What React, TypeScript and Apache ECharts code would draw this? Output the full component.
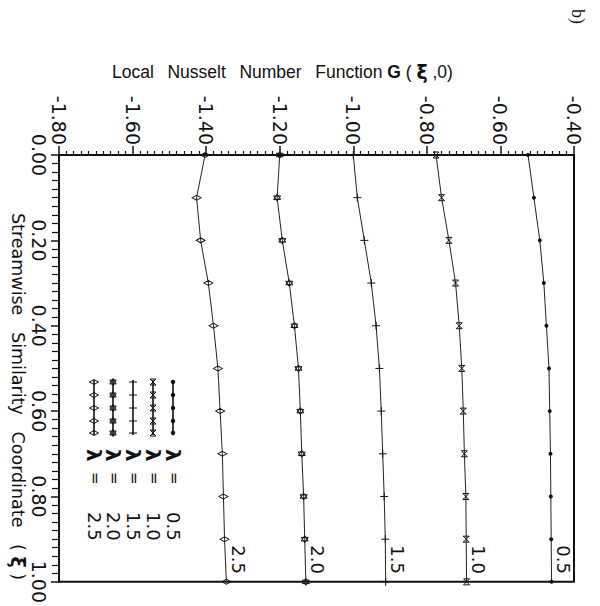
import React, { useEffect, useRef } from "react";
import * as echarts from "echarts";

// Streamwise similarity coordinate ξ (vertical axis, downward)
const xi = [0, 0.1, 0.2, 0.3, 0.4, 0.5, 0.6, 0.7, 0.8, 0.9, 1.0];

// Local Nusselt number function G(ξ,0) for each λ
const g05 = [-0.525, -0.509, -0.493, -0.482, -0.475, -0.468, -0.466, -0.464, -0.463, -0.462, -0.461];
const g10 = [-0.775, -0.760, -0.740, -0.722, -0.712, -0.705, -0.701, -0.698, -0.694, -0.693, -0.692];
const g15 = [-1.000, -0.989, -0.970, -0.951, -0.938, -0.929, -0.924, -0.920, -0.916, -0.913, -0.912];
const g20 = [-1.200, -1.207, -1.193, -1.174, -1.160, -1.149, -1.144, -1.140, -1.135, -1.132, -1.129];
const g25 = [-1.403, -1.426, -1.415, -1.394, -1.380, -1.368, -1.362, -1.356, -1.353, -1.350, -1.345];

const lambdaLabels = ["0.5", "1.0", "1.5", "2.0", "2.5"];

const G_MIN = -1.8;
const G_MAX = -0.4;
const G_STEP = 0.2;
const XI_MIN = 0;
const XI_MAX = 1;
const XI_STEP = 0.2;

const INK = "#111";

type Kind = "dot" | "hourglass" | "plus" | "star" | "diamond";

const curves: { values: number[]; kind: Kind }[] = [
  { values: g05, kind: "dot" },
  { values: g10, kind: "hourglass" },
  { values: g15, kind: "plus" },
  { values: g20, kind: "star" },
  { values: g25, kind: "diamond" },
];

const symbolFor: Record<Kind, { symbol: string; size: number | number[] }> = {
  dot: { symbol: "circle", size: 4 },
  hourglass: { symbol: "path://M0,0 L10,0 L0,10 L10,10 Z", size: 6 },
  plus: { symbol: "path://M0,5 L10,5 M5,0 L5,10", size: 8 },
  star: { symbol: "path://M5,0 L9.3,7.5 L0.7,7.5 Z M5,10 L0.7,2.5 L9.3,2.5 Z", size: 7 },
  diamond: { symbol: "path://M0,5 L5,0 L10,5 L5,10 Z", size: [9, 5] },
};

function legendMarker(kind: Kind, cx: number, cy: number): any[] {
  const st = { stroke: INK, lineWidth: 1, fill: "none" };
  switch (kind) {
    case "dot":
      return [{ type: "circle", shape: { cx, cy, r: 2.2 }, style: { fill: INK } }];
    case "hourglass":
      return [
        {
          type: "polygon",
          shape: { points: [[cx - 3, cy - 3], [cx + 3, cy - 3], [cx - 3, cy + 3], [cx + 3, cy + 3]] },
          style: st,
        },
      ];
    case "plus":
      return [{ type: "line", shape: { x1: cx - 4, y1: cy, x2: cx + 4, y2: cy }, style: st }];
    case "star":
      return [
        { type: "polygon", shape: { points: [[cx, cy - 3.5], [cx + 3.2, cy + 2], [cx - 3.2, cy + 2]] }, style: st },
        { type: "polygon", shape: { points: [[cx, cy + 3.5], [cx - 3.2, cy - 2], [cx + 3.2, cy - 2]] }, style: st },
      ];
    case "diamond":
      return [
        {
          type: "polygon",
          shape: { points: [[cx - 4.5, cy], [cx, cy - 2.5], [cx + 4.5, cy], [cx, cy + 2.5]] },
          style: st,
        },
      ];
  }
  return [];
}

export default function App() {
  const ref = useRef<HTMLDivElement>(null);

  useEffect(() => {
    if (!ref.current) return;
    const chart = echarts.init(ref.current, undefined, { renderer: "svg" });

    const series = curves.map((c, k) => ({
      type: "line",
      name: "λ = " + lambdaLabels[k],
      data: c.values.map((g, i) => [g, xi[i]]),
      symbol: symbolFor[c.kind].symbol,
      symbolSize: symbolFor[c.kind].size,
      showSymbol: true,
      clip: false,
      silent: true,
      lineStyle: { color: "#222", width: 1 },
      itemStyle:
        c.kind === "dot"
          ? { color: INK }
          : { color: "rgba(0,0,0,0)", borderColor: INK, borderWidth: 1 },
      emphasis: { disabled: true },
      z: 3,
    }));

    const tickFont = { fontFamily: "DejaVu Sans", fontSize: 19, color: INK };
    const fmt = (v: number) => v.toFixed(2);

    chart.setOption({
      animation: false,
      backgroundColor: "#fff",
      grid: {
        left: 59,
        right: 26,
        top: 155,
        bottom: 23,
        show: true,
        borderColor: INK,
        borderWidth: 2,
      },
      xAxis: {
        type: "value",
        position: "top",
        min: G_MIN,
        max: G_MAX,
        interval: G_STEP,
        axisLine: { show: true, lineStyle: { color: INK, width: 2 } },
        axisTick: { show: true, length: 9, lineStyle: { color: INK, width: 1.5 } },
        minorTick: { show: true, splitNumber: 10, length: 4, lineStyle: { color: INK, width: 1.2 } },
        splitLine: { show: false },
        axisLabel: {
          ...tickFont,
          rotate: -90,
          margin: 10,
          showMinLabel: true,
          showMaxLabel: true,
          formatter: fmt,
        },
      },
      yAxis: {
        type: "value",
        inverse: true,
        min: XI_MIN,
        max: XI_MAX,
        interval: XI_STEP,
        axisLine: { show: true, lineStyle: { color: INK, width: 2 } },
        axisTick: { show: true, length: 8, lineStyle: { color: INK, width: 1.5 } },
        minorTick: { show: true, splitNumber: 10, length: 7, lineStyle: { color: INK, width: 1.2 } },
        splitLine: { show: false },
        axisLabel: {
          ...tickFont,
          rotate: -90,
          margin: 11,
          showMinLabel: true,
          showMaxLabel: true,
          formatter: fmt,
        },
      },
      series,
    });

    // Curve labels beside the last point of each line
    const endLabels = curves.map((c, k) => {
      const last = c.values.length - 1;
      const [px, py] = chart.convertToPixel({ gridIndex: 0 }, [c.values[last], xi[last]]) as number[];
      return {
        type: "text",
        x: px + 3,
        y: py - 8,
        rotation: -Math.PI / 2,
        silent: true,
        style: {
          text: lambdaLabels[k],
          font: '18px "DejaVu Sans"',
          fill: INK,
          align: "right",
          verticalAlign: "bottom",
        },
      };
    });

    // Key: one column per λ, line with markers then the label
    const keyCols = [173, 153, 133, 113, 94];
    const keyMarkY = [382, 395, 408, 421, 433];
    const keyItems: any[] = [];
    curves.forEach((c, k) => {
      const x = keyCols[k];
      keyItems.push({
        type: "line",
        shape: { x1: x, y1: 380, x2: x, y2: 435 },
        style: { stroke: INK, lineWidth: 1.6 },
      });
      keyMarkY.forEach((y) => keyItems.push(...legendMarker(c.kind, x, y)));
      keyItems.push({
        type: "text",
        x,
        y: 449,
        rotation: -Math.PI / 2,
        style: { text: "λ", font: 'bold 20px "DejaVu Sans"', fill: INK, align: "left", verticalAlign: "middle" },
      });
      keyItems.push({
        type: "text",
        x: x + 0.5,
        y: 472,
        rotation: -Math.PI / 2,
        style: { text: "=", font: '15px "DejaVu Sans"', fill: INK, align: "left", verticalAlign: "middle" },
      });
      keyItems.push({
        type: "text",
        x,
        y: 512,
        rotation: -Math.PI / 2,
        style: {
          text: lambdaLabels[k],
          font: '18px "DejaVu Sans"',
          fill: INK,
          align: "left",
          verticalAlign: "middle",
        },
      });
    });

    chart.setOption({
      graphic: [
        {
          type: "text",
          x: 112,
          y: 72,
          silent: true,
          style: {
            text: "Local\u2002 Nusselt\u2002 Number\u2002 Function {g|G} ( {x|ξ} ,0)",
            font: '17.5px "Liberation Sans"',
            fill: INK,
            align: "left",
            verticalAlign: "middle",
            rich: {
              g: { fontFamily: "Liberation Sans", fontSize: 17.5, fontWeight: "bold", fill: INK },
              x: { fontFamily: "DejaVu Sans", fontSize: 19, fontWeight: "bold", fill: INK },
            },
          },
        },
        {
          type: "text",
          x: 18,
          y: 213,
          rotation: -Math.PI / 2,
          silent: true,
          style: {
            text: "Streamwise   Similarity   Coordinate   ( {x|ξ} )",
            font: '17.5px "DejaVu Sans"',
            fill: INK,
            align: "left",
            verticalAlign: "middle",
            rich: {
              x: { fontFamily: "DejaVu Sans", fontSize: 19, fontWeight: "bold", fill: INK },
            },
          },
        },
        {
          type: "text",
          x: 578,
          y: 9,
          rotation: -Math.PI / 2,
          silent: true,
          style: {
            text: "b)",
            font: '18px "Liberation Serif"',
            fill: INK,
            align: "left",
            verticalAlign: "middle",
          },
        },
        ...endLabels,
        ...keyItems,
      ],
    });

    return () => chart.dispose();
  }, []);

  return (
    <div
      ref={ref}
      style={{ position: "absolute", left: 0, top: 0, width: 600, height: 606, background: "#fff" }}
    />
  );
}
